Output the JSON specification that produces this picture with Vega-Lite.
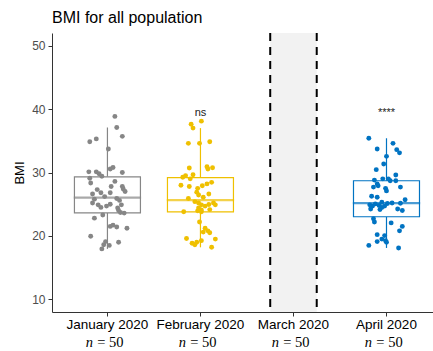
{
"$schema": "https://vega.github.io/schema/vega-lite/v6.json",
"width": 381, "height": 279,
"autosize": {"type": "none"},
"padding": {"left": 52, "top": 33, "right": 0, "bottom": 39},
"background": "white",
"title": {"text": "BMI for all population", "anchor": "start", "frame": "group", "fontSize": 16, "fontWeight": "normal", "font": "Liberation Sans", "color": "black", "offset": 6},
"config": {
  "view": {"stroke": null},
  "font": "Liberation Sans",
  "axis": {"grid": false, "domainColor": "#333333", "tickColor": "#333333", "tickSize": 4, "domainWidth": 1, "tickWidth": 1, "titleFontWeight": "normal"},
  "axisY": {"labelFontSize": 12, "labelColor": "#4d4d4d", "labelPadding": 3, "titleFontSize": 13, "titleColor": "black", "titlePadding": 5}
},
"datasets": {
  "gap": [{"month": "March 2020"}],
  "sig": [{"month": "February 2020", "label": "ns"}, {"month": "April 2020", "label": "****"}],
  "bmi": [
    {"month":"January 2020","bmi":38.85,"jitter":0.08},{"month":"January 2020","bmi":37.1,"jitter":0.10},{"month":"January 2020","bmi":35.7,"jitter":0.16},{"month":"January 2020","bmi":34.85,"jitter":-0.19},{"month":"January 2020","bmi":35.3,"jitter":-0.12},
    {"month":"January 2020","bmi":33.7,"jitter":0.01},{"month":"January 2020","bmi":30.55,"jitter":0.03},{"month":"January 2020","bmi":30.8,"jitter":0.06},{"month":"January 2020","bmi":30.1,"jitter":-0.20},{"month":"January 2020","bmi":30.1,"jitter":-0.12},
    {"month":"January 2020","bmi":29.8,"jitter":-0.09},{"month":"January 2020","bmi":29.4,"jitter":-0.06},{"month":"January 2020","bmi":30.0,"jitter":0.16},{"month":"January 2020","bmi":29.1,"jitter":-0.19},{"month":"January 2020","bmi":28.35,"jitter":-0.18},
    {"month":"January 2020","bmi":27.8,"jitter":0.04},{"month":"January 2020","bmi":27.8,"jitter":0.16},{"month":"January 2020","bmi":27.4,"jitter":0.17},{"month":"January 2020","bmi":27.0,"jitter":0.19},{"month":"January 2020","bmi":26.6,"jitter":-0.16},
    {"month":"January 2020","bmi":26.8,"jitter":-0.07},{"month":"January 2020","bmi":26.8,"jitter":0.03},{"month":"January 2020","bmi":25.8,"jitter":-0.14},{"month":"January 2020","bmi":25.9,"jitter":0.10},{"month":"January 2020","bmi":25.2,"jitter":-0.16},
    {"month":"January 2020","bmi":24.9,"jitter":-0.10},{"month":"January 2020","bmi":24.5,"jitter":-0.07},{"month":"January 2020","bmi":24.7,"jitter":-0.01},{"month":"January 2020","bmi":25.0,"jitter":0.03},{"month":"January 2020","bmi":25.6,"jitter":0.13},
    {"month":"January 2020","bmi":24.9,"jitter":0.15},{"month":"January 2020","bmi":24.4,"jitter":0.11},{"month":"January 2020","bmi":23.7,"jitter":0.14},{"month":"January 2020","bmi":23.6,"jitter":0.18},{"month":"January 2020","bmi":23.3,"jitter":-0.05},
    {"month":"January 2020","bmi":22.8,"jitter":-0.14},{"month":"January 2020","bmi":21.5,"jitter":0.03},{"month":"January 2020","bmi":21.7,"jitter":0.06},{"month":"January 2020","bmi":21.4,"jitter":0.10},{"month":"January 2020","bmi":21.2,"jitter":0.21},
    {"month":"January 2020","bmi":19.95,"jitter":-0.18},{"month":"January 2020","bmi":19.0,"jitter":0.12},{"month":"January 2020","bmi":19.1,"jitter":-0.02},{"month":"January 2020","bmi":18.6,"jitter":-0.04},{"month":"January 2020","bmi":17.95,"jitter":-0.06},
    {"month":"January 2020","bmi":18.5,"jitter":0.02},{"month":"January 2020","bmi":27.3,"jitter":-0.11},{"month":"January 2020","bmi":28.6,"jitter":0.08},{"month":"January 2020","bmi":26.2,"jitter":-0.03},{"month":"January 2020","bmi":24.0,"jitter":0.12},

    {"month":"February 2020","bmi":37.6,"jitter":-0.10},{"month":"February 2020","bmi":38.1,"jitter":0.01},{"month":"February 2020","bmi":37.0,"jitter":-0.08},{"month":"February 2020","bmi":34.6,"jitter":-0.13},{"month":"February 2020","bmi":34.6,"jitter":-0.01},
    {"month":"February 2020","bmi":34.85,"jitter":0.10},{"month":"February 2020","bmi":30.7,"jitter":-0.12},{"month":"February 2020","bmi":30.9,"jitter":0.07},{"month":"February 2020","bmi":30.55,"jitter":0.08},{"month":"February 2020","bmi":30.75,"jitter":0.13},
    {"month":"February 2020","bmi":29.5,"jitter":-0.16},{"month":"February 2020","bmi":29.25,"jitter":-0.19},{"month":"February 2020","bmi":29.0,"jitter":-0.11},{"month":"February 2020","bmi":29.65,"jitter":-0.08},{"month":"February 2020","bmi":28.0,"jitter":-0.21},
    {"month":"February 2020","bmi":27.8,"jitter":-0.12},{"month":"February 2020","bmi":27.5,"jitter":-0.03},{"month":"February 2020","bmi":27.9,"jitter":0.02},{"month":"February 2020","bmi":28.2,"jitter":0.07},{"month":"February 2020","bmi":28.45,"jitter":0.12},
    {"month":"February 2020","bmi":26.9,"jitter":-0.04},{"month":"February 2020","bmi":25.9,"jitter":-0.13},{"month":"February 2020","bmi":26.45,"jitter":-0.02},{"month":"February 2020","bmi":25.4,"jitter":-0.06},{"month":"February 2020","bmi":25.2,"jitter":-0.02},
    {"month":"February 2020","bmi":24.9,"jitter":0.01},{"month":"February 2020","bmi":24.7,"jitter":0.05},{"month":"February 2020","bmi":24.95,"jitter":0.09},{"month":"February 2020","bmi":25.2,"jitter":0.14},{"month":"February 2020","bmi":24.9,"jitter":0.16},
    {"month":"February 2020","bmi":24.4,"jitter":-0.02},{"month":"February 2020","bmi":24.15,"jitter":0.10},{"month":"February 2020","bmi":23.8,"jitter":0.01},{"month":"February 2020","bmi":23.8,"jitter":-0.18},{"month":"February 2020","bmi":23.95,"jitter":-0.03},
    {"month":"February 2020","bmi":24.1,"jitter":0.01},{"month":"February 2020","bmi":22.2,"jitter":-0.01},{"month":"February 2020","bmi":21.2,"jitter":0.05},{"month":"February 2020","bmi":20.8,"jitter":0.08},{"month":"February 2020","bmi":20.6,"jitter":0.03},
    {"month":"February 2020","bmi":20.5,"jitter":0.10},{"month":"February 2020","bmi":19.6,"jitter":-0.15},{"month":"February 2020","bmi":19.5,"jitter":0.16},{"month":"February 2020","bmi":19.25,"jitter":0.01},{"month":"February 2020","bmi":19.0,"jitter":-0.04},
    {"month":"February 2020","bmi":18.85,"jitter":-0.09},{"month":"February 2020","bmi":18.6,"jitter":-0.06},{"month":"February 2020","bmi":18.2,"jitter":0.12},{"month":"February 2020","bmi":26.1,"jitter":0.03},{"month":"February 2020","bmi":26.6,"jitter":0.09},

    {"month":"April 2020","bmi":35.4,"jitter":-0.19},{"month":"April 2020","bmi":33.7,"jitter":-0.10},{"month":"April 2020","bmi":34.6,"jitter":0.07},{"month":"April 2020","bmi":33.6,"jitter":0.11},{"month":"April 2020","bmi":33.1,"jitter":0.14},
    {"month":"April 2020","bmi":32.55,"jitter":0.00},{"month":"April 2020","bmi":31.35,"jitter":-0.03},{"month":"April 2020","bmi":30.45,"jitter":-0.11},{"month":"April 2020","bmi":29.6,"jitter":0.10},{"month":"April 2020","bmi":28.8,"jitter":-0.13},
    {"month":"April 2020","bmi":28.2,"jitter":-0.10},{"month":"April 2020","bmi":29.0,"jitter":0.02},{"month":"April 2020","bmi":28.7,"jitter":0.04},{"month":"April 2020","bmi":28.7,"jitter":0.10},{"month":"April 2020","bmi":27.7,"jitter":-0.14},
    {"month":"April 2020","bmi":27.9,"jitter":-0.09},{"month":"April 2020","bmi":27.5,"jitter":-0.01},{"month":"April 2020","bmi":27.1,"jitter":0.00},{"month":"April 2020","bmi":27.7,"jitter":0.15},{"month":"April 2020","bmi":26.25,"jitter":-0.16},
    {"month":"April 2020","bmi":26.1,"jitter":-0.10},{"month":"April 2020","bmi":25.3,"jitter":-0.05},{"month":"April 2020","bmi":25.15,"jitter":0.15},{"month":"April 2020","bmi":25.7,"jitter":0.20},{"month":"April 2020","bmi":24.9,"jitter":-0.18},
    {"month":"April 2020","bmi":24.7,"jitter":-0.15},{"month":"April 2020","bmi":25.05,"jitter":-0.12},{"month":"April 2020","bmi":24.8,"jitter":-0.08},{"month":"April 2020","bmi":24.5,"jitter":-0.05},{"month":"April 2020","bmi":24.7,"jitter":-0.02},
    {"month":"April 2020","bmi":24.25,"jitter":-0.17},{"month":"April 2020","bmi":24.15,"jitter":-0.07},{"month":"April 2020","bmi":24.25,"jitter":0.12},{"month":"April 2020","bmi":24.0,"jitter":0.17},{"month":"April 2020","bmi":22.7,"jitter":-0.14},
    {"month":"April 2020","bmi":22.2,"jitter":-0.13},{"month":"April 2020","bmi":22.05,"jitter":0.05},{"month":"April 2020","bmi":21.5,"jitter":0.17},{"month":"April 2020","bmi":20.8,"jitter":0.14},{"month":"April 2020","bmi":20.2,"jitter":-0.10},
    {"month":"April 2020","bmi":20.05,"jitter":-0.02},{"month":"April 2020","bmi":19.5,"jitter":-0.05},{"month":"April 2020","bmi":19.1,"jitter":-0.10},{"month":"April 2020","bmi":19.0,"jitter":0.00},{"month":"April 2020","bmi":18.5,"jitter":-0.19},
    {"month":"April 2020","bmi":18.1,"jitter":0.13},{"month":"April 2020","bmi":19.25,"jitter":-0.01},{"month":"April 2020","bmi":25.1,"jitter":0.01},{"month":"April 2020","bmi":29.0,"jitter":-0.04},{"month":"April 2020","bmi":25.2,"jitter":0.06}
  ]
},
"resolve": {"axis": {"x": "independent"}},
"layer": [
  {
    "data": {"name": "gap"},
    "mark": {"type": "rect", "fill": "#f2f2f2"},
    "encoding": {
      "x": {"field": "month", "type": "nominal", "bandPosition": 0.25, "scale": {"type": "band", "domain": ["January 2020","February 2020","March 2020","April 2020"], "paddingInner": 0, "paddingOuter": 0.048, "align": 1}, "axis": null},
      "x2": {"field": "month", "bandPosition": 0.75},
      "y": {"datum": 8, "type": "quantitative", "scale": {"domain": [8, 52], "nice": false, "zero": false}, "axis": {"values": [10,20,30,40,50], "title": "BMI"}},
      "y2": {"datum": 52}
    }
  },
  {
    "data": {"name": "gap"},
    "mark": {"type": "rule", "color": "black", "strokeWidth": 2, "strokeDash": [8, 6]},
    "encoding": {
      "x": {"field": "month", "type": "nominal", "bandPosition": 0.25, "scale": {"type": "band", "domain": ["January 2020","February 2020","March 2020","April 2020"], "paddingInner": 0, "paddingOuter": 0.048, "align": 1}, "axis": null}
    }
  },
  {
    "data": {"name": "gap"},
    "mark": {"type": "rule", "color": "black", "strokeWidth": 2, "strokeDash": [8, 6]},
    "encoding": {
      "x": {"field": "month", "type": "nominal", "bandPosition": 0.75, "scale": {"type": "band", "domain": ["January 2020","February 2020","March 2020","April 2020"], "paddingInner": 0, "paddingOuter": 0.048, "align": 1}, "axis": null}
    }
  },
  {
    "data": {"name": "bmi"},
    "mark": {"type": "boxplot", "extent": 1.5, "size": 66, "outliers": false, "box": {"fill": "white", "strokeWidth": 1.2}, "rule": {"strokeWidth": 1.2}, "median": {"thickness": 1, "strokeWidth": 1.3}},
    "encoding": {
      "x": {"field": "month", "type": "nominal", "scale": {"type": "band", "domain": ["January 2020","February 2020","March 2020","April 2020"], "paddingInner": 0, "paddingOuter": 0.048, "align": 1},
            "axis": {"orient": "bottom", "title": null, "domain": false, "ticks": false, "tickSize": 0, "offset": 21, "labelPadding": 2, "labelExpr": "'= 50'", "labelFont": "Liberation Serif", "labelFontSize": 14.5, "labelColor": "black", "labelOffset": 3, "labelAngle": 0}},
      "y": {"field": "bmi", "type": "quantitative", "scale": {"domain": [8, 52], "nice": false, "zero": false}, "axis": {"values": [10,20,30,40,50], "title": "BMI"}},
      "stroke": {"field": "month", "type": "nominal", "scale": {"domain": ["January 2020","February 2020","April 2020"], "range": ["#868686","#EFC000","#0073C2"]}, "legend": null}
    }
  },
  {
    "data": {"name": "bmi"},
    "mark": {"type": "circle", "size": 24, "opacity": 1},
    "encoding": {
      "x": {"field": "month", "type": "nominal", "scale": {"type": "band", "domain": ["January 2020","February 2020","March 2020","April 2020"], "paddingInner": 0, "paddingOuter": 0.048, "align": 1},
            "axis": {"orient": "bottom", "title": null, "labelFontSize": 13.5, "labelColor": "black", "labelPadding": 1.5, "labelAngle": 0}},
      "xOffset": {"field": "jitter", "type": "quantitative", "scale": {"domain": [-0.5, 0.5]}},
      "y": {"field": "bmi", "type": "quantitative", "scale": {"domain": [8, 52], "nice": false, "zero": false}, "axis": {"values": [10,20,30,40,50], "title": "BMI"}},
      "color": {"field": "month", "type": "nominal", "scale": {"domain": ["January 2020","February 2020","April 2020"], "range": ["#868686","#EFC000","#0073C2"]}, "legend": null}
    }
  },
  {
    "data": {"name": "sig"},
    "mark": {"type": "text", "fontSize": 11, "color": "#222222", "baseline": "alphabetic"},
    "encoding": {
      "x": {"field": "month", "type": "nominal", "scale": {"type": "band", "domain": ["January 2020","February 2020","March 2020","April 2020"], "paddingInner": 0, "paddingOuter": 0.048, "align": 1},
            "axis": {"orient": "bottom", "title": null, "domain": false, "ticks": false, "tickSize": 0, "offset": 21, "labelPadding": 2, "labelExpr": "'n'", "labelFont": "Liberation Serif", "labelFontStyle": "italic", "labelFontSize": 14.5, "labelColor": "black", "labelOffset": -18, "labelAngle": 0}},
      "y": {"datum": 38.9, "type": "quantitative", "scale": {"domain": [8, 52], "nice": false, "zero": false}, "axis": {"values": [10,20,30,40,50], "title": "BMI"}},
      "text": {"field": "label"}
    }
  }
]
}
